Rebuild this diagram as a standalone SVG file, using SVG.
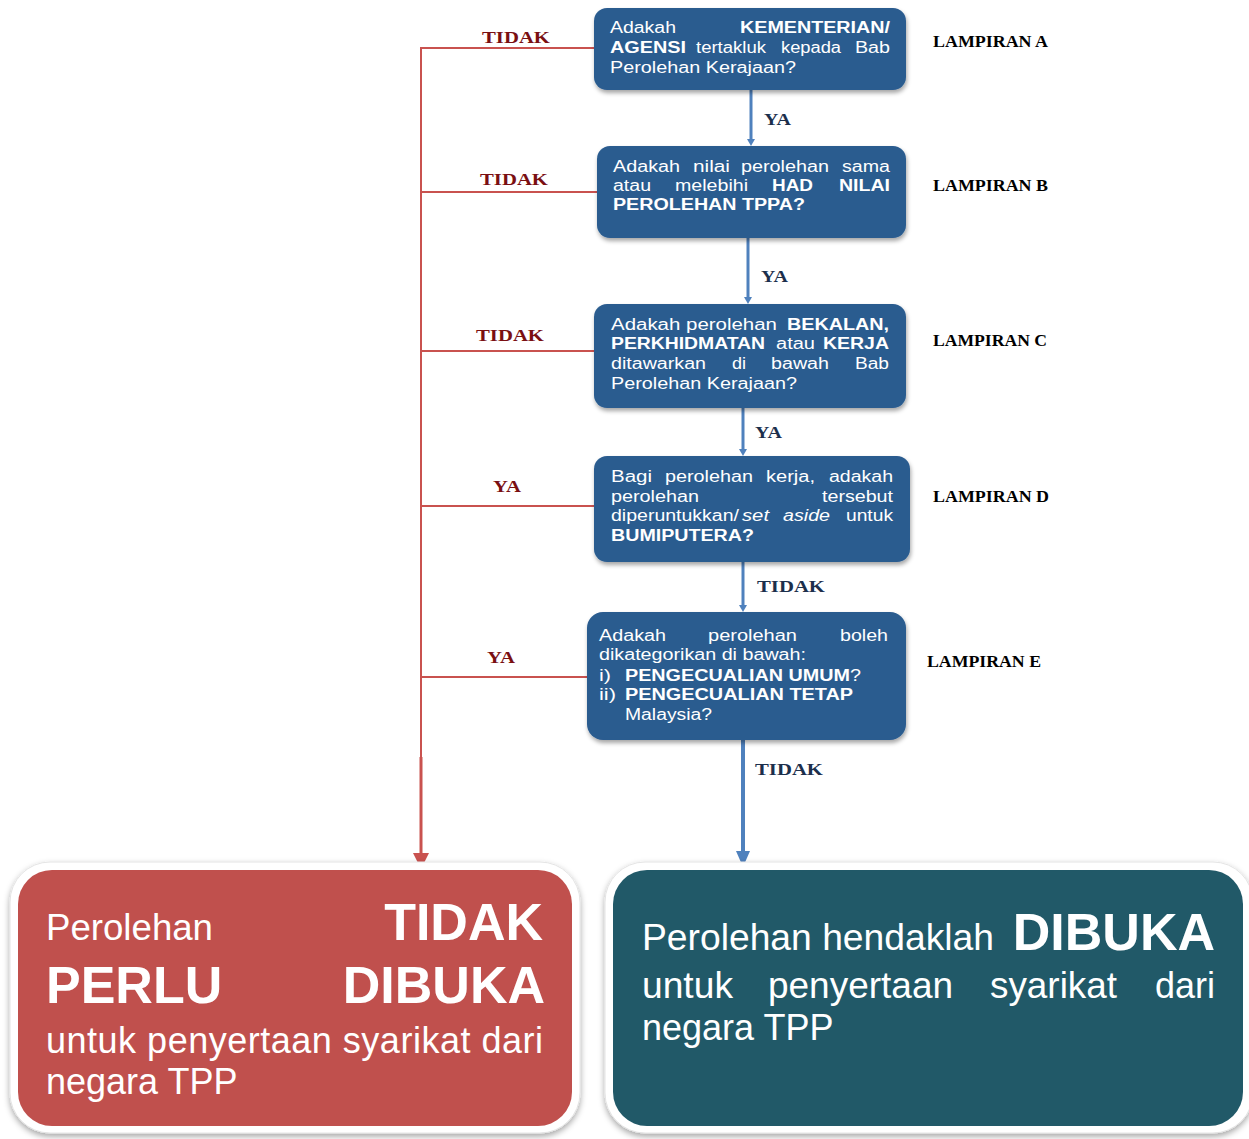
<svg xmlns="http://www.w3.org/2000/svg" width="1249" height="1139" viewBox="0 0 1249 1139">
<defs>
<style>
.q{fill:#2a5b8f}
.t{font-family:"Liberation Sans",Arial,sans-serif;font-size:16px;fill:#ffffff}
.b{font-weight:bold}
.i{font-style:italic}
.lr{font-family:"Liberation Serif","Times New Roman",serif;font-weight:bold;font-size:17px;fill:#7a0f12}
.lb{font-family:"Liberation Serif","Times New Roman",serif;font-weight:bold;font-size:17px;fill:#1c2f4c}
.lp{font-family:"Liberation Serif","Times New Roman",serif;font-weight:bold;font-size:16px;fill:#000000}
.big{font-family:"Liberation Sans",Arial,sans-serif;fill:#ffffff}
.red{stroke:#c9524f;fill:none}
.blue{stroke:#4f81bd;fill:none}
</style>
<filter id="sh" x="-10%" y="-10%" width="120%" height="130%">
<feDropShadow dx="1" dy="3" stdDeviation="2" flood-color="#000" flood-opacity="0.35"/>
</filter>
<filter id="sh2" x="-5%" y="-5%" width="110%" height="115%">
<feDropShadow dx="0" dy="3" stdDeviation="3" flood-color="#000" flood-opacity="0.35"/>
</filter>
</defs>
<rect width="1249" height="1139" fill="#ffffff"/>

<g id="connectors">
<line class="red" stroke-width="2" x1="421" y1="48" x2="421" y2="757"/>
<line class="red" stroke-width="3" x1="421" y1="757" x2="421" y2="856"/>
<polygon points="413,853 429,853 421,869" fill="#c9524f"/>
<line class="red" stroke-width="2" x1="420" y1="48" x2="594" y2="48"/>
<line class="red" stroke-width="2" x1="420" y1="192" x2="597" y2="192"/>
<line class="red" stroke-width="2" x1="420" y1="351" x2="594" y2="351"/>
<line class="red" stroke-width="2" x1="420" y1="506" x2="594" y2="506"/>
<line class="red" stroke-width="2" x1="420" y1="677" x2="587" y2="677"/>
<line class="blue" stroke-width="3" x1="751" y1="90" x2="751" y2="140"/>
<polygon points="747,139 755,139 751,146" fill="#4f81bd"/>
<line class="blue" stroke-width="3" x1="748" y1="238" x2="748" y2="298"/>
<polygon points="744,297 752,297 748,304" fill="#4f81bd"/>
<line class="blue" stroke-width="3" x1="743" y1="408" x2="743" y2="450"/>
<polygon points="739,449 747,449 743,456" fill="#4f81bd"/>
<line class="blue" stroke-width="3" x1="743" y1="562" x2="743" y2="606"/>
<polygon points="739,605 747,605 743,612" fill="#4f81bd"/>
<line class="blue" stroke-width="4" x1="743" y1="740" x2="743" y2="854"/>
<polygon points="736,851 750,851 743,867" fill="#4f81bd"/>
<text class="lr" x="482" y="43" textLength="68" lengthAdjust="spacingAndGlyphs">TIDAK</text>
<text class="lr" x="480" y="185" textLength="68" lengthAdjust="spacingAndGlyphs">TIDAK</text>
<text class="lr" x="476" y="341" textLength="68" lengthAdjust="spacingAndGlyphs">TIDAK</text>
<text class="lr" x="493" y="492" textLength="28" lengthAdjust="spacingAndGlyphs">YA</text>
<text class="lr" x="487" y="663" textLength="28" lengthAdjust="spacingAndGlyphs">YA</text>
<text class="lb" x="764" y="125" textLength="27" lengthAdjust="spacingAndGlyphs">YA</text>
<text class="lb" x="761" y="282" textLength="27" lengthAdjust="spacingAndGlyphs">YA</text>
<text class="lb" x="755" y="438" textLength="27" lengthAdjust="spacingAndGlyphs">YA</text>
<text class="lb" x="757" y="592" textLength="68" lengthAdjust="spacingAndGlyphs">TIDAK</text>
<text class="lb" x="755" y="775" textLength="68" lengthAdjust="spacingAndGlyphs">TIDAK</text>
</g>

<g id="nodeA">
<rect class="q" x="594" y="8" width="312" height="82" rx="13" filter="url(#sh)"/>
<text class="t" x="610" y="33" textLength="66" lengthAdjust="spacingAndGlyphs">Adakah</text>
<text class="t b" x="740" y="33" textLength="150" lengthAdjust="spacingAndGlyphs">KEMENTERIAN/</text>
<text class="t b" x="610" y="53" textLength="76" lengthAdjust="spacingAndGlyphs">AGENSI</text>
<text class="t" x="696" y="53" textLength="70" lengthAdjust="spacingAndGlyphs">tertakluk</text>
<text class="t" x="781" y="53" textLength="60" lengthAdjust="spacingAndGlyphs">kepada</text>
<text class="t" x="855" y="53" textLength="35" lengthAdjust="spacingAndGlyphs">Bab</text>
<text class="t" x="610" y="73" textLength="186" lengthAdjust="spacingAndGlyphs">Perolehan Kerajaan?</text>
</g>
<text class="lp" x="933" y="47" textLength="115" lengthAdjust="spacingAndGlyphs">LAMPIRAN A</text>

<g id="nodeB">
<rect class="q" x="597" y="146" width="309" height="92" rx="13" filter="url(#sh)"/>
<text class="t" x="613" y="172" textLength="67" lengthAdjust="spacingAndGlyphs">Adakah</text>
<text class="t" x="693" y="172" textLength="37" lengthAdjust="spacingAndGlyphs">nilai</text>
<text class="t" x="741" y="172" textLength="88" lengthAdjust="spacingAndGlyphs">perolehan</text>
<text class="t" x="842" y="172" textLength="48" lengthAdjust="spacingAndGlyphs">sama</text>
<text class="t" x="613" y="191" textLength="38" lengthAdjust="spacingAndGlyphs">atau</text>
<text class="t" x="675" y="191" textLength="73" lengthAdjust="spacingAndGlyphs">melebihi</text>
<text class="t b" x="772" y="191" textLength="41" lengthAdjust="spacingAndGlyphs">HAD</text>
<text class="t b" x="839" y="191" textLength="51" lengthAdjust="spacingAndGlyphs">NILAI</text>
<text class="t b" x="613" y="210" textLength="192" lengthAdjust="spacingAndGlyphs">PEROLEHAN TPPA?</text>
</g>
<text class="lp" x="933" y="191" textLength="115" lengthAdjust="spacingAndGlyphs">LAMPIRAN B</text>

<g id="nodeC">
<rect class="q" x="594" y="304" width="312" height="104" rx="13" filter="url(#sh)"/>
<text class="t" x="611" y="330" textLength="166" lengthAdjust="spacingAndGlyphs">Adakah perolehan</text>
<text class="t b" x="787" y="330" textLength="102" lengthAdjust="spacingAndGlyphs">BEKALAN,</text>
<text class="t b" x="611" y="349" textLength="154" lengthAdjust="spacingAndGlyphs">PERKHIDMATAN</text>
<text class="t" x="776" y="349" textLength="39" lengthAdjust="spacingAndGlyphs">atau</text>
<text class="t b" x="823" y="349" textLength="66" lengthAdjust="spacingAndGlyphs">KERJA</text>
<text class="t" x="611" y="369" textLength="95" lengthAdjust="spacingAndGlyphs">ditawarkan</text>
<text class="t" x="732" y="369" textLength="14" lengthAdjust="spacingAndGlyphs">di</text>
<text class="t" x="771" y="369" textLength="58" lengthAdjust="spacingAndGlyphs">bawah</text>
<text class="t" x="855" y="369" textLength="34" lengthAdjust="spacingAndGlyphs">Bab</text>
<text class="t" x="611" y="389" textLength="186" lengthAdjust="spacingAndGlyphs">Perolehan Kerajaan?</text>
</g>
<text class="lp" x="933" y="346" textLength="114" lengthAdjust="spacingAndGlyphs">LAMPIRAN C</text>

<g id="nodeD">
<rect class="q" x="594" y="456" width="316" height="106" rx="13" filter="url(#sh)"/>
<text class="t" x="611" y="482" textLength="41" lengthAdjust="spacingAndGlyphs">Bagi</text>
<text class="t" x="665" y="482" textLength="88" lengthAdjust="spacingAndGlyphs">perolehan</text>
<text class="t" x="766" y="482" textLength="49" lengthAdjust="spacingAndGlyphs">kerja,</text>
<text class="t" x="829" y="482" textLength="64" lengthAdjust="spacingAndGlyphs">adakah</text>
<text class="t" x="611" y="502" textLength="88" lengthAdjust="spacingAndGlyphs">perolehan</text>
<text class="t" x="822" y="502" textLength="71" lengthAdjust="spacingAndGlyphs">tersebut</text>
<text class="t" x="611" y="521" textLength="128" lengthAdjust="spacingAndGlyphs">diperuntukkan/</text>
<text class="t i" x="742" y="521" textLength="27" lengthAdjust="spacingAndGlyphs">set</text>
<text class="t i" x="783" y="521" textLength="47" lengthAdjust="spacingAndGlyphs">aside</text>
<text class="t" x="846" y="521" textLength="47" lengthAdjust="spacingAndGlyphs">untuk</text>
<text class="t b" x="611" y="541" textLength="143" lengthAdjust="spacingAndGlyphs">BUMIPUTERA?</text>
</g>
<text class="lp" x="933" y="502" textLength="116" lengthAdjust="spacingAndGlyphs">LAMPIRAN D</text>

<g id="nodeE">
<rect class="q" x="587" y="612" width="319" height="128" rx="16" filter="url(#sh)"/>
<text class="t" x="599" y="641" textLength="67" lengthAdjust="spacingAndGlyphs">Adakah</text>
<text class="t" x="708" y="641" textLength="89" lengthAdjust="spacingAndGlyphs">perolehan</text>
<text class="t" x="840" y="641" textLength="48" lengthAdjust="spacingAndGlyphs">boleh</text>
<text class="t" x="599" y="660" textLength="207" lengthAdjust="spacingAndGlyphs">dikategorikan di bawah:</text>
<text class="t" x="599" y="681" textLength="12" lengthAdjust="spacingAndGlyphs">i)</text>
<text class="t" x="625" y="681" textLength="236" lengthAdjust="spacingAndGlyphs"><tspan class="b">PENGECUALIAN UMUM</tspan>?</text>
<text class="t" x="599" y="700" textLength="17" lengthAdjust="spacingAndGlyphs">ii)</text>
<text class="t b" x="625" y="700" textLength="228" lengthAdjust="spacingAndGlyphs">PENGECUALIAN TETAP</text>
<text class="t" x="625" y="720" textLength="87" lengthAdjust="spacingAndGlyphs">Malaysia?</text>
</g>
<text class="lp" x="927" y="667" textLength="114" lengthAdjust="spacingAndGlyphs">LAMPIRAN E</text>

<g id="nodeNo">
<rect x="10" y="862" width="570" height="271" rx="40" fill="#ffffff" stroke="#e4e4e4" stroke-width="1" filter="url(#sh2)"/>
<rect x="18" y="870" width="554" height="256" rx="34" fill="#c0504d"/>
<text class="big" x="46" y="940" font-size="36" textLength="167" lengthAdjust="spacingAndGlyphs">Perolehan</text>
<text class="big" x="543" y="940" font-size="52" font-weight="bold" text-anchor="end">TIDAK</text>
<text class="big" x="46" y="1003" font-size="52" font-weight="bold">PERLU</text>
<text class="big" x="545" y="1003" font-size="52" font-weight="bold" text-anchor="end">DIBUKA</text>
<text class="big" x="46" y="1053" font-size="36" textLength="497" lengthAdjust="spacing">untuk penyertaan syarikat dari</text>
<text class="big" x="46" y="1094" font-size="36">negara TPP</text>
</g>

<g id="nodeYes">
<rect x="605" y="862" width="648" height="271" rx="40" fill="#ffffff" stroke="#e4e4e4" stroke-width="1" filter="url(#sh2)"/>
<rect x="613" y="870" width="630" height="256" rx="34" fill="#215968"/>
<text class="big" x="642" y="950" font-size="37" textLength="352" lengthAdjust="spacingAndGlyphs">Perolehan hendaklah</text>
<text class="big" x="1215" y="950" font-size="52" font-weight="bold" text-anchor="end">DIBUKA</text>
<text class="big" x="642" y="998" font-size="36" textLength="91" lengthAdjust="spacingAndGlyphs">untuk</text>
<text class="big" x="768" y="998" font-size="36" textLength="185" lengthAdjust="spacingAndGlyphs">penyertaan</text>
<text class="big" x="990" y="998" font-size="36" textLength="127" lengthAdjust="spacingAndGlyphs">syarikat</text>
<text class="big" x="1215" y="998" font-size="36" text-anchor="end">dari</text>
<text class="big" x="642" y="1040" font-size="36">negara TPP</text>
</g>
</svg>
